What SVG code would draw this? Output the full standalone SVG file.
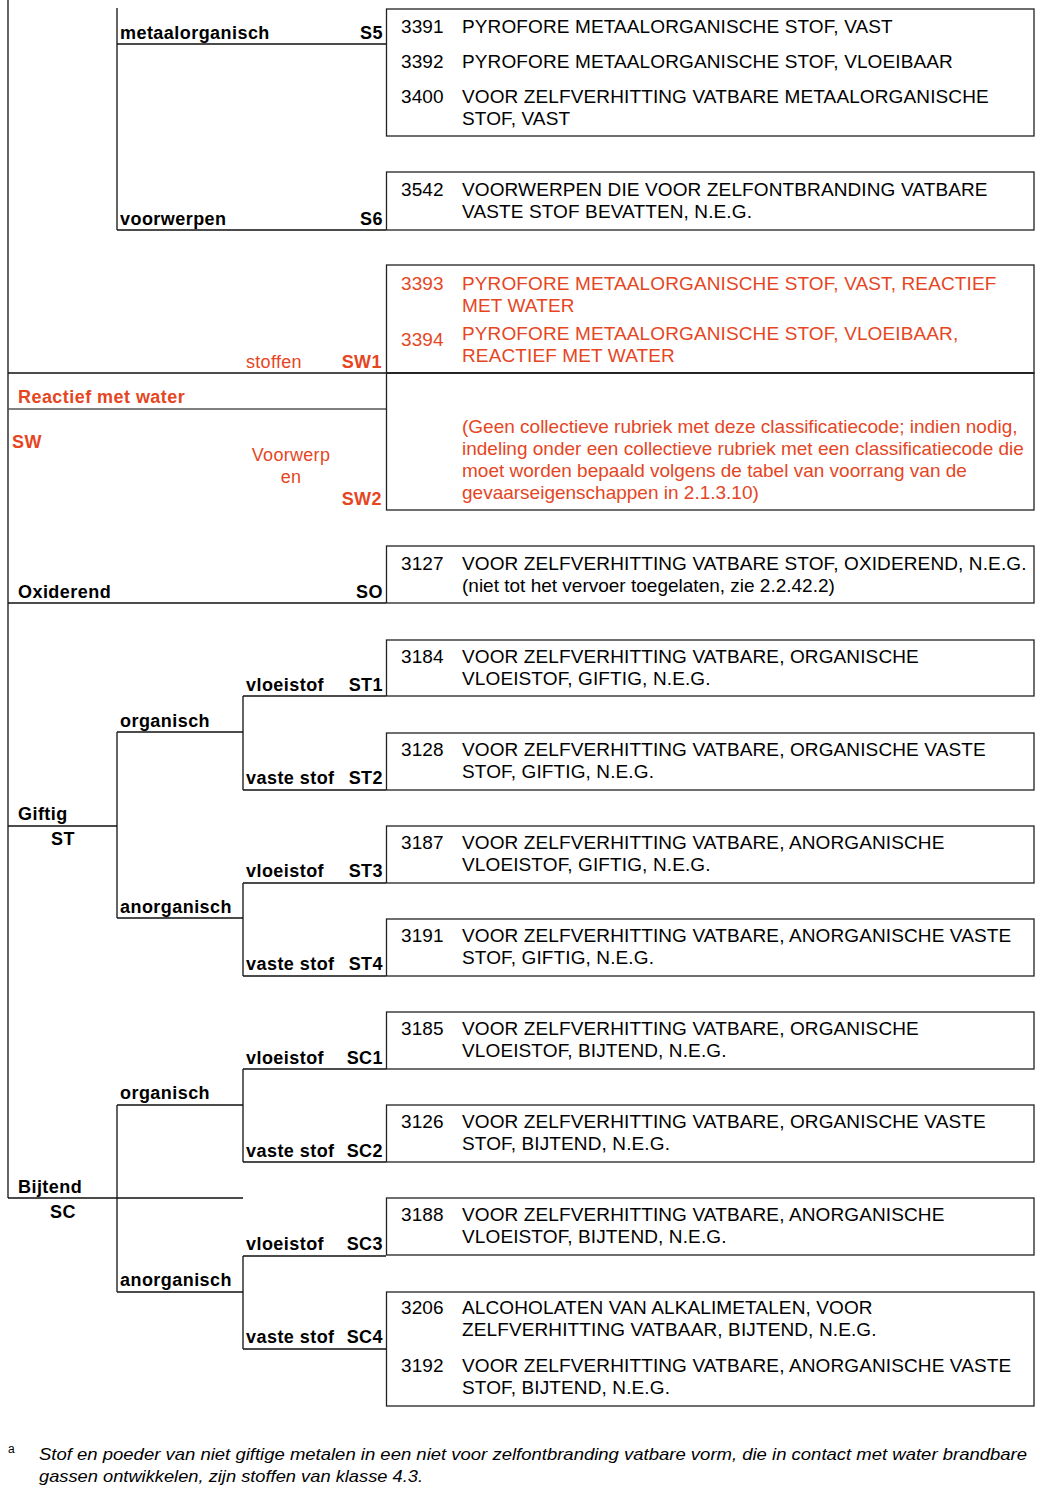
<svg xmlns="http://www.w3.org/2000/svg" width="1041" height="1502" viewBox="0 0 1041 1502">
<style>
text{font-family:"Liberation Sans",Arial,sans-serif;fill:#000}
.lb{font-size:18px;font-weight:bold;letter-spacing:0.45px}
.bx{font-size:19px;letter-spacing:0.12px}
.para{letter-spacing:0px}
.red{fill:#E5461F}
.rl{font-size:18px;fill:#E5461F;letter-spacing:0.3px}
.box{fill:none;stroke:#222;stroke-width:1.3}
.ln{fill:none;stroke:#111;stroke-width:1.3}
.fn{font-size:17px;font-style:italic}
.end{text-anchor:end}
.mid{text-anchor:middle}
</style>
<rect width="1041" height="1502" fill="#fff"/>
<g id="connectors">
<path class="ln" d="M8 0V1198"/>
<path class="ln" d="M117 8V230M117 44H386M117 230H386"/>
<path class="ln" d="M8 373H1034"/>
<path class="ln" d="M8 409H386" style="stroke:#555;stroke-width:1.6"/>
<path class="ln" d="M8 603H386"/>
<path class="ln" d="M8 826H117M117 732V918M117 732H243M117 918H243"/>
<path class="ln" d="M243 696V790M243 696H386M243 790H386M243 883V976M243 883H386M243 976H386"/>
<path class="ln" d="M8 1198H243M117 1105V1292M117 1105H243M117 1292H243"/>
<path class="ln" d="M243 1069V1162M243 1069H386M243 1162H386M243 1256V1349M243 1256H386M243 1349H386"/>
</g>
<g id="node-S5">
<rect class="box" x="386.5" y="9" width="647.5" height="127"/>
<text class="lb" x="120" y="39">metaalorganisch</text>
<text class="lb end" x="383" y="39">S5</text>
<text class="bx" x="401" y="33">3391</text><text class="bx" x="462" y="33">PYROFORE METAALORGANISCHE STOF, VAST</text>
<text class="bx" x="401" y="68">3392</text><text class="bx" x="462" y="68">PYROFORE METAALORGANISCHE STOF, VLOEIBAAR</text>
<text class="bx" x="401" y="103">3400</text><text class="bx" x="462" y="103">VOOR ZELFVERHITTING VATBARE METAALORGANISCHE</text>
<text class="bx" x="462" y="125">STOF, VAST</text>
</g>
<g id="node-S6">
<rect class="box" x="386.5" y="172" width="647.5" height="58"/>
<text class="lb" x="120" y="225">voorwerpen</text>
<text class="lb end" x="383" y="225">S6</text>
<text class="bx" x="401" y="196">3542</text><text class="bx" x="462" y="196">VOORWERPEN DIE VOOR ZELFONTBRANDING VATBARE</text>
<text class="bx" x="462" y="218">VASTE STOF BEVATTEN, N.E.G.</text>
</g>
<g id="node-SW">
<text class="lb red" x="18" y="403">Reactief met water</text>
<text class="lb red" x="12" y="448">SW</text>
</g>
<g id="node-SW1">
<rect class="box" x="386.5" y="265" width="647.5" height="108"/>
<text class="rl" x="246" y="368">stoffen</text>
<text class="lb red end" x="382" y="368">SW1</text>
<text class="bx red" x="401" y="290">3393</text><text class="bx red" x="462" y="290">PYROFORE METAALORGANISCHE STOF, VAST, REACTIEF</text>
<text class="bx red" x="462" y="312">MET WATER</text>
<text class="bx red" x="401" y="346">3394</text><text class="bx red" x="462" y="340">PYROFORE METAALORGANISCHE STOF, VLOEIBAAR,</text>
<text class="bx red" x="462" y="362">REACTIEF MET WATER</text>
</g>
<g id="node-SW2">
<rect class="box" x="386.5" y="373" width="647.5" height="137"/>
<text class="rl mid" x="291" y="461">Voorwerp</text>
<text class="rl mid" x="291" y="483">en</text>
<text class="lb red end" x="382" y="505">SW2</text>
<text class="bx red para" x="462" y="433">(Geen collectieve rubriek met deze classificatiecode; indien nodig,</text>
<text class="bx red para" x="462" y="455">indeling onder een collectieve rubriek met een classificatiecode die</text>
<text class="bx red para" x="462" y="477">moet worden bepaald volgens de tabel van voorrang van de</text>
<text class="bx red para" x="462" y="499">gevaarseigenschappen in 2.1.3.10)</text>
</g>
<g id="node-SO">
<rect class="box" x="386.5" y="546" width="647.5" height="57"/>
<text class="lb" x="18" y="598">Oxiderend</text>
<text class="lb end" x="383" y="598">SO</text>
<text class="bx" x="401" y="570">3127</text><text class="bx" x="462" y="570">VOOR ZELFVERHITTING VATBARE STOF, OXIDEREND, N.E.G.</text>
<text class="bx para" x="462" y="592">(niet tot het vervoer toegelaten, zie 2.2.42.2)</text>
</g>
<g id="node-ST">
<text class="lb" x="18" y="820">Giftig</text>
<text class="lb" x="51" y="845">ST</text>
<text class="lb" x="120" y="727">organisch</text>
<text class="lb" x="120" y="913">anorganisch</text>
</g>
<g id="node-ST1">
<rect class="box" x="386.5" y="640" width="647.5" height="56"/>
<text class="lb" x="246" y="691">vloeistof</text>
<text class="lb end" x="383" y="691">ST1</text>
<text class="bx" x="401" y="663">3184</text><text class="bx" x="462" y="663">VOOR ZELFVERHITTING VATBARE, ORGANISCHE</text>
<text class="bx" x="462" y="685">VLOEISTOF, GIFTIG, N.E.G.</text>
</g>
<g id="node-ST2">
<rect class="box" x="386.5" y="733" width="647.5" height="57"/>
<text class="lb" x="246" y="784">vaste stof</text>
<text class="lb end" x="383" y="784">ST2</text>
<text class="bx" x="401" y="756">3128</text><text class="bx" x="462" y="756">VOOR ZELFVERHITTING VATBARE, ORGANISCHE VASTE</text>
<text class="bx" x="462" y="778">STOF, GIFTIG, N.E.G.</text>
</g>
<g id="node-ST3">
<rect class="box" x="386.5" y="826" width="647.5" height="57"/>
<text class="lb" x="246" y="877">vloeistof</text>
<text class="lb end" x="383" y="877">ST3</text>
<text class="bx" x="401" y="849">3187</text><text class="bx" x="462" y="849">VOOR ZELFVERHITTING VATBARE, ANORGANISCHE</text>
<text class="bx" x="462" y="871">VLOEISTOF, GIFTIG, N.E.G.</text>
</g>
<g id="node-ST4">
<rect class="box" x="386.5" y="919" width="647.5" height="57"/>
<text class="lb" x="246" y="970">vaste stof</text>
<text class="lb end" x="383" y="970">ST4</text>
<text class="bx" x="401" y="942">3191</text><text class="bx" x="462" y="942">VOOR ZELFVERHITTING VATBARE, ANORGANISCHE VASTE</text>
<text class="bx" x="462" y="964">STOF, GIFTIG, N.E.G.</text>
</g>
<g id="node-SC">
<text class="lb" x="18" y="1193">Bijtend</text>
<text class="lb" x="50" y="1218">SC</text>
<text class="lb" x="120" y="1099">organisch</text>
<text class="lb" x="120" y="1286">anorganisch</text>
</g>
<g id="node-SC1">
<rect class="box" x="386.5" y="1012" width="647.5" height="57"/>
<text class="lb" x="246" y="1064">vloeistof</text>
<text class="lb end" x="383" y="1064">SC1</text>
<text class="bx" x="401" y="1035">3185</text><text class="bx" x="462" y="1035">VOOR ZELFVERHITTING VATBARE, ORGANISCHE</text>
<text class="bx" x="462" y="1057">VLOEISTOF, BIJTEND, N.E.G.</text>
</g>
<g id="node-SC2">
<rect class="box" x="386.5" y="1105" width="647.5" height="57"/>
<text class="lb" x="246" y="1157">vaste stof</text>
<text class="lb end" x="383" y="1157">SC2</text>
<text class="bx" x="401" y="1128">3126</text><text class="bx" x="462" y="1128">VOOR ZELFVERHITTING VATBARE, ORGANISCHE  VASTE</text>
<text class="bx" x="462" y="1150">STOF, BIJTEND, N.E.G.</text>
</g>
<g id="node-SC3">
<rect class="box" x="386.5" y="1198" width="647.5" height="57"/>
<text class="lb" x="246" y="1250">vloeistof</text>
<text class="lb end" x="383" y="1250">SC3</text>
<text class="bx" x="401" y="1221">3188</text><text class="bx" x="462" y="1221">VOOR ZELFVERHITTING VATBARE, ANORGANISCHE</text>
<text class="bx" x="462" y="1243">VLOEISTOF, BIJTEND, N.E.G.</text>
</g>
<g id="node-SC4">
<rect class="box" x="386.5" y="1292" width="647.5" height="114"/>
<text class="lb" x="246" y="1343">vaste stof</text>
<text class="lb end" x="383" y="1343">SC4</text>
<text class="bx" x="401" y="1314">3206</text><text class="bx" x="462" y="1314">ALCOHOLATEN VAN ALKALIMETALEN, VOOR</text>
<text class="bx" x="462" y="1336">ZELFVERHITTING VATBAAR, BIJTEND, N.E.G.</text>
<text class="bx" x="401" y="1372">3192</text><text class="bx" x="462" y="1372">VOOR ZELFVERHITTING VATBARE, ANORGANISCHE VASTE</text>
<text class="bx" x="462" y="1394">STOF, BIJTEND, N.E.G.</text>
</g>
<g id="footnote">
<text x="8" y="1453" style="font-size:12px">a</text>
<text class="fn" x="39" y="1460" textLength="988" lengthAdjust="spacingAndGlyphs">Stof en poeder van niet giftige metalen in een niet voor zelfontbranding vatbare vorm, die in contact met water brandbare</text>
<text class="fn" x="39" y="1482" textLength="384" lengthAdjust="spacingAndGlyphs">gassen ontwikkelen, zijn stoffen van klasse 4.3.</text>
</g>
</svg>
